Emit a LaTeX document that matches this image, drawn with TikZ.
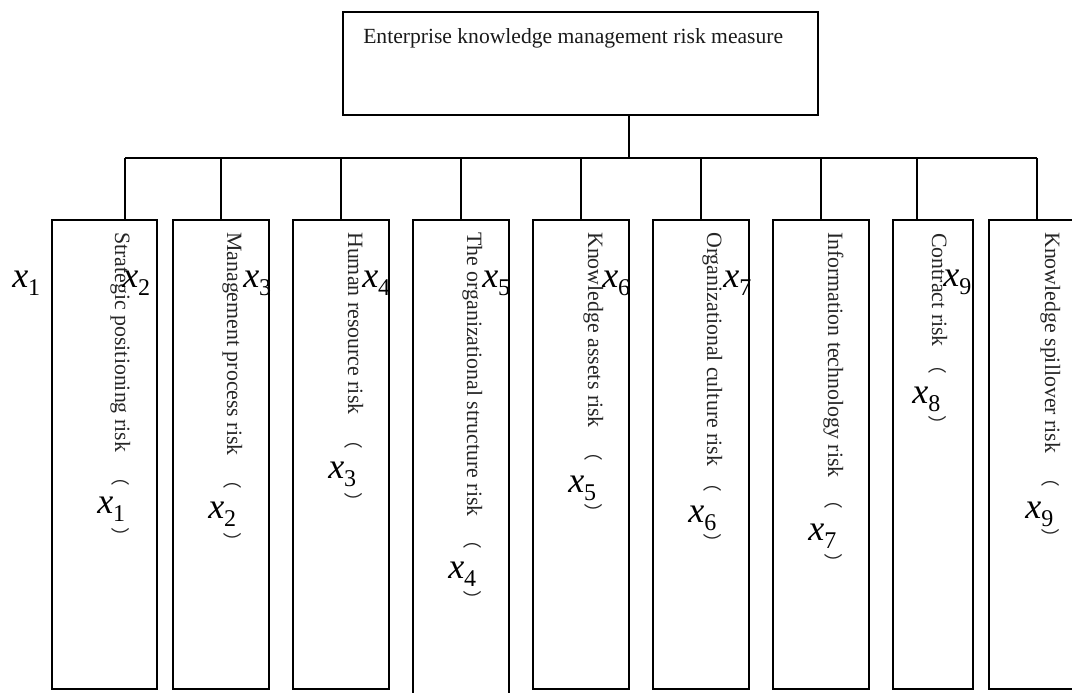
\documentclass[tikz,border=0pt]{standalone}
\usepackage{fontspec}
\setmainfont{Liberation Serif}
\newfontfamily\cjk{Noto Sans CJK SC}
\newcommand{\xsub}[1]{{\fontsize{27}{27}\selectfont\itshape x}\raisebox{-6.5pt}{\fontsize{18}{18}\selectfont #1}}
\begin{document}
\begin{tikzpicture}[x=0.75pt,y=-0.75pt,
  box/.style={draw, line width=1.3pt, inner sep=0},
  bx/.style 2 args={minimum width=#1*0.75pt, minimum height=#2*0.75pt},
  conn/.style={line width=1.3pt},
  vlab/.style={rotate=-90, anchor=base west, inner sep=0, font=\fontsize{16.4}{16.4}\selectfont, text=black!85},
  par/.style={rotate=-90, inner sep=0, font=\cjk\fontsize{14}{14}\selectfont, text=black!85},
  xl/.style={anchor=base west, inner sep=0}]
\useasboundingbox (0,0) rectangle (1072,693);
% top box
\node[box, bx={475}{103}] (top) at (580.5,63.5) {};
\node[anchor=base west, inner sep=0, font=\fontsize{16.2}{16.2}\selectfont, text=black!90] (toptext) at (363,43) {Enterprise knowledge management risk measure};
% boxes
\node[box, bx={105}{469}] (b1) at (104.5,454.5) {};
\node[box, bx={96}{469}] (b2) at (221,454.5) {};
\node[box, bx={96}{469}] (b3) at (341,454.5) {};
\node[box, bx={96}{480}] (b4) at (461,460) {};
\node[box, bx={96}{469}] (b5) at (581,454.5) {};
\node[box, bx={96}{469}] (b6) at (701,454.5) {};
\node[box, bx={96}{469}] (b7) at (821,454.5) {};
\node[box, bx={80}{469}] (b8) at (933,454.5) {};
\node[box, bx={96}{469}] (b9) at (1037,454.5) {};
% connectors
\coordinate (t) at (629,0);
\foreach \i/\xx in {1/125,2/221,3/341,4/461,5/581,6/701,7/821,8/917,9/1037}
  \coordinate (d\i) at (\xx,158);
\draw[conn] (t |- top.south) -- (t |- d1);
\draw[conn] (d1) -- (d9);
\foreach \i in {1,...,9}
  \draw[conn] (d\i) -- (d\i |- b\i.north);
% vertical labels
\node[vlab] (l1) at (115,232) {Strategic positioning risk};
\node[vlab] (l2) at (227,232) {Management process risk};
\node[vlab] (l3) at (348,232) {Human resource risk};
\node[vlab] (l4) at (467,232) {The organizational structure risk};
\node[vlab] (l5) at (588,232) {Knowledge assets risk};
\node[vlab] (l6) at (707,232) {Organizational culture risk};
\node[vlab] (l7) at (828,232) {Information technology risk};
\node[vlab] (l8) at (932,233) {Contract risk};
\node[vlab] (l9) at (1045,232) {Knowledge spillover risk};
% parentheses
\foreach \i/\cx/\ya/\yb in {1/121/477/537,2/233/480/542,3/354/440/502,4/473/540/600,5/594/452/513,6/713/483/543,7/834/500/563,8/938/365/425,9/1051/478/538}{
  \node[par] (po\i) at (\cx,\ya) {（};
  \node[par] (pc\i) at (\cx,\yb) {）};
}
% x labels (upper)
\node[xl] (u1) at (12,287) {\xsub{1}};
\node[xl] (u2) at (122,287) {\xsub{2}};
\node[xl] (u3) at (243,287) {\xsub{3}};
\node[xl] (u4) at (362,287) {\xsub{4}};
\node[xl] (u5) at (482,287) {\xsub{5}};
\node[xl] (u6) at (602,287) {\xsub{6}};
\node[xl] (u7) at (723,287) {\xsub{7}};
\node[xl] (u9) at (943,286) {\xsub{9}};
% x labels (lower)
\node[xl] (v1) at (97,513) {\xsub{1}};
\node[xl] (v2) at (208,518) {\xsub{2}};
\node[xl] (v3) at (328,478) {\xsub{3}};
\node[xl] (v4) at (448,578) {\xsub{4}};
\node[xl] (v5) at (568,492) {\xsub{5}};
\node[xl] (v6) at (688,522) {\xsub{6}};
\node[xl] (v7) at (808,540) {\xsub{7}};
\node[xl] (v8) at (912,403) {\xsub{8}};
\node[xl] (v9) at (1025,518) {\xsub{9}};
\end{tikzpicture}
\end{document}
